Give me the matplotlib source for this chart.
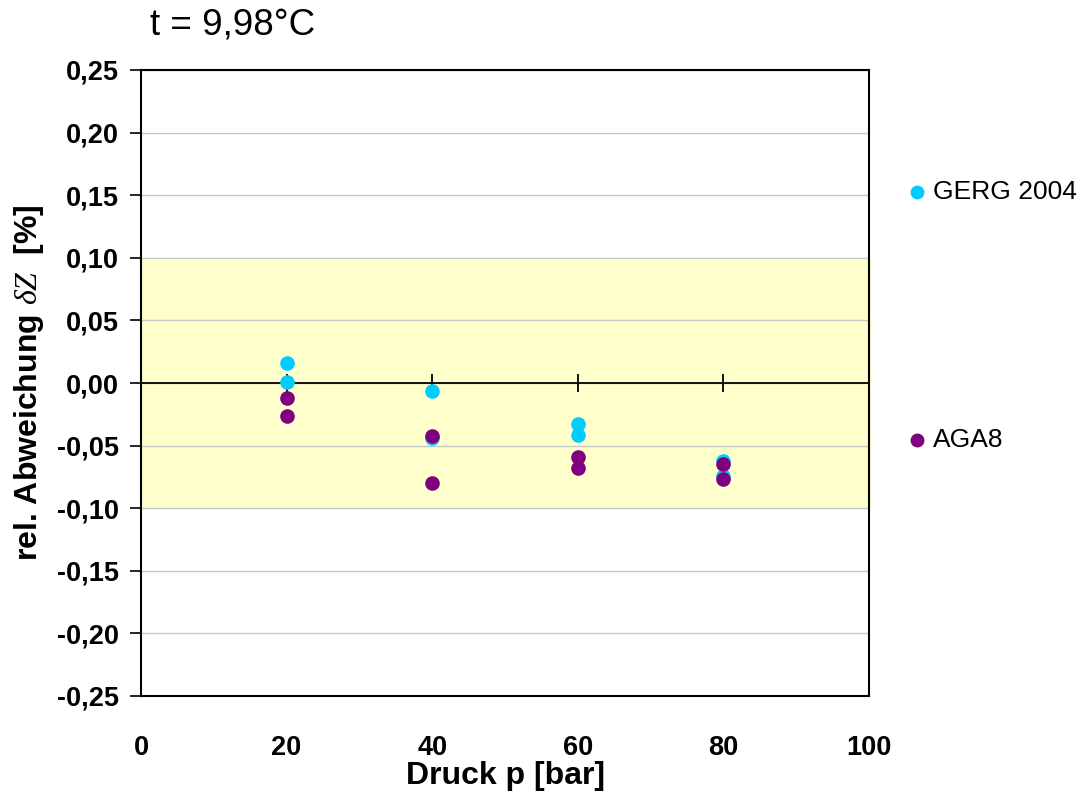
import matplotlib
matplotlib.use("Agg")
import matplotlib.pyplot as plt
from matplotlib.lines import Line2D

plt.rcParams['font.family'] = ['Liberation Sans', 'DejaVu Sans']
plt.rcParams['mathtext.fontset'] = 'custom'
plt.rcParams['mathtext.rm'] = 'Liberation Serif'
plt.rcParams['mathtext.it'] = 'Liberation Serif:italic'

# Data
series_names = ["GERG 2004", "AGA8"]
gerg_p = [20, 20, 40, 40, 60, 60, 80, 80]
gerg_dz = [0.0157, 0.0005, -0.0061, -0.0440, -0.0330, -0.0415, -0.0625, -0.0740]
aga_p = [20, 20, 40, 40, 60, 60, 80, 80]
aga_dz = [-0.0117, -0.0264, -0.0423, -0.0796, -0.0594, -0.0682, -0.0647, -0.0770]
band_low, band_high = -0.10, 0.098
xticks = [0, 20, 40, 60, 80, 100]
yticks = [-0.25, -0.20, -0.15, -0.10, -0.05, 0.0, 0.05, 0.10, 0.15, 0.20, 0.25]
ytick_labels = ["-0,25", "-0,20", "-0,15", "-0,10", "-0,05", "0,00",
                "0,05", "0,10", "0,15", "0,20", "0,25"]
colors = ["#00CCFF", "#800080"]

fig = plt.figure(figsize=(10.83, 7.98), dpi=100)
ax = fig.add_axes([141/1083, 102/798, (869-141)/1083, (696-70)/798])

ax.set_xlim(0, 100)
ax.set_ylim(-0.25, 0.25)

# yellow tolerance band
ax.axhspan(band_low, band_high, xmin=0, xmax=1.004, color="#FFFFCC", zorder=0, clip_on=False, lw=0)

# gridlines
ax.set_yticks(yticks)
ax.set_yticklabels(ytick_labels)
ax.yaxis.grid(True, color="#C8C8C8", lw=1.0, zorder=1)
ax.set_axisbelow(True)

# zero line with tick crossings
ax.axhline(0, color="black", lw=1.3, zorder=2)
ax.plot(xticks[1:], [0]*len(xticks[1:]), linestyle="none", marker="|",
        ms=13, mew=1.3, color="black", zorder=2)

ax.set_xticks(xticks)
ax.set_xticklabels([str(v) for v in xticks])
ax.tick_params(axis="x", length=0, pad=28, labelsize=19.5)
ax.tick_params(axis="y", length=8, width=1.2, direction="out", pad=8, labelsize=19.5)
for lab in ax.get_xticklabels() + ax.get_yticklabels():
    lab.set_fontweight("bold")

for s in ax.spines.values():
    s.set_linewidth(1.5)
    s.set_color("black")
    s.set_zorder(4)

# data points
ax.plot(gerg_p, gerg_dz, linestyle="none", marker="o", ms=9.5, color=colors[0],
        mec=colors[0], zorder=3, clip_on=False)
ax.plot(aga_p, aga_dz, linestyle="none", marker="o", ms=9.5, color=colors[1],
        mec=colors[1], zorder=3, clip_on=False)

ax.set_xlabel("Druck p [bar]", fontsize=23, fontweight="bold", labelpad=0)
ax.set_ylabel(r"rel. Abweichung $\delta Z$  [%]", fontsize=23, fontweight="bold", labelpad=8)

# title
fig.text(150/1083, 1 - 25/798, "t = 9,98°C", fontsize=26.5, ha="left", va="center")

# legend (placed at right, as in reference)
leg_y = [1 - 192/798, 1 - 440/798]
for name, c, y in zip(series_names, colors, leg_y):
    fig.add_artist(Line2D([917/1083], [y], marker="o", ms=9, color=c, mec=c,
                          linestyle="none", transform=fig.transFigure))
    fig.text(933/1083, y, name, fontsize=19, ha="left", va="center")

fig.savefig("out.png", dpi=100)
